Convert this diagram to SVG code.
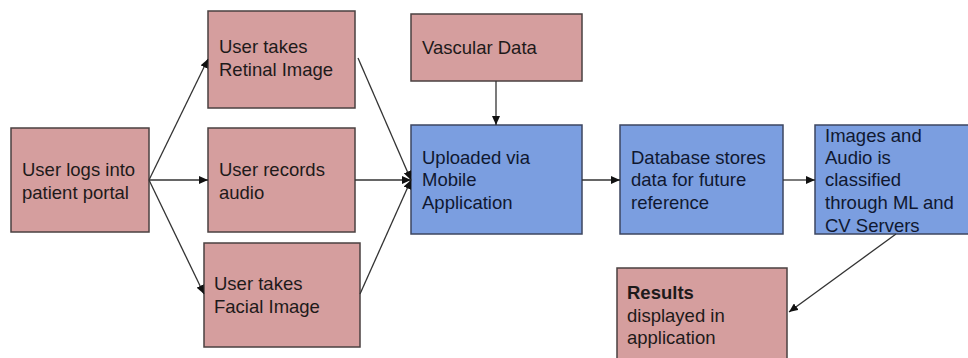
<svg xmlns="http://www.w3.org/2000/svg" width="968" height="358" viewBox="0 0 968 358">
<defs>
<marker id="ah" markerWidth="10" markerHeight="8" refX="9" refY="4" orient="auto" markerUnits="userSpaceOnUse">
<path d="M0,0 L9,4 L0,8 Z" fill="#111"/>
</marker>
<style>
.pink{fill:#d59e9e;stroke:#4a4040;stroke-width:1.5}
.blue{fill:#7b9ee0;stroke:#3d4660;stroke-width:1.5}
text{font-family:"Liberation Sans",Arial,sans-serif;font-size:18.5px;fill:#1e1a1a}
.bt{fill:#101830}
.con line{stroke:#333;stroke-width:1.3;marker-end:url(#ah)}
</style>
</defs>
<rect width="968" height="358" fill="#fff"/>
<g id="login"><rect class="pink" x="11" y="128" width="138" height="104"/><text x="22" y="176">User logs into</text><text x="22" y="199">patient portal</text></g>
<g id="retinal"><rect class="pink" x="208" y="11" width="147" height="97"/><text x="219" y="53">User takes</text><text x="219" y="76">Retinal Image</text></g>
<g id="audio"><rect class="pink" x="208" y="128" width="147" height="104"/><text x="219" y="176">User records</text><text x="219" y="199">audio</text></g>
<g id="facial"><rect class="pink" x="204" y="243" width="156" height="104"/><text x="214" y="290">User takes</text><text x="214" y="313">Facial Image</text></g>
<g id="vascular"><rect class="pink" x="411" y="14" width="171" height="67"/><text x="422" y="54">Vascular Data</text></g>
<g id="uploaded"><rect class="blue" x="411" y="125" width="171" height="109"/><text class="bt" x="422" y="164">Uploaded via</text><text class="bt" x="422" y="186">Mobile</text><text class="bt" x="422" y="209">Application</text></g>
<g id="database"><rect class="blue" x="620" y="125" width="163" height="109"/><text class="bt" x="631" y="164">Database stores</text><text class="bt" x="631" y="186">data for future</text><text class="bt" x="631" y="209">reference</text></g>
<g id="images"><rect class="blue" x="815" y="125" width="160" height="109"/><text class="bt" x="825" y="142">Images and</text><text class="bt" x="825" y="164">Audio is</text><text class="bt" x="825" y="186">classified</text><text class="bt" x="825" y="209">through ML and</text><text class="bt" x="825" y="232">CV Servers</text></g>
<g id="results"><rect class="pink" x="617" y="268" width="170" height="100"/><text x="627" y="299" font-weight="bold">Results</text><text x="627" y="322">displayed in</text><text x="627" y="344">application</text></g>
<g class="con">
<line x1="149" y1="180" x2="208" y2="59"/>
<line x1="149" y1="180" x2="208" y2="180"/>
<line x1="149" y1="180" x2="204" y2="294"/>
<line x1="358" y1="58" x2="411" y2="180"/>
<line x1="355" y1="180" x2="411" y2="180"/>
<line x1="360" y1="294" x2="411" y2="180"/>
<line x1="496" y1="81" x2="496" y2="125"/>
<line x1="582" y1="180" x2="620" y2="180"/>
<line x1="783" y1="180" x2="815" y2="180"/>
<line x1="896" y1="234" x2="789" y2="312"/>
</g>
</svg>
